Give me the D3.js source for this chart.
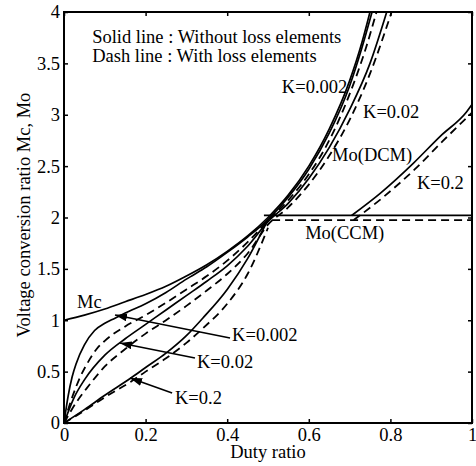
<!DOCTYPE html>
<html>
<head>
<meta charset="utf-8">
<script src="https://cdn.jsdelivr.net/npm/d3@7"></script>
<style>
  body { margin: 0; background: #fff; }
  svg text { font-family: "Liberation Serif", "Times New Roman", serif; fill: #000; }
</style>
</head>
<body>
<div id="chart"></div>
<script>
// ---- data (duty ratio D, conversion ratio M) ----
const xTicks = [0, 0.2, 0.4, 0.6, 0.8, 1];
const yTicks = [0, 0.5, 1, 1.5, 2, 2.5, 3, 3.5, 4];

const mcD = [0, 0.05, 0.1, 0.15, 0.2, 0.25, 0.3, 0.35, 0.4, 0.45, 0.5, 0.55, 0.6, 0.65, 0.7, 0.73, 0.75];
const mcM = [1, 1.05, 1.11, 1.18, 1.25, 1.33, 1.43, 1.54, 1.67, 1.82, 2.0, 2.22, 2.5, 2.86, 3.33, 3.7, 4.0];

const k002SolidD = [0, 0.01, 0.02, 0.03, 0.05, 0.075, 0.1, 0.125, 0.15, 0.2, 0.25, 0.3, 0.35, 0.4, 0.45, 0.5, 0.55, 0.6, 0.65, 0.7, 0.73, 0.755];
const k002SolidM = [0, 0.26, 0.45, 0.58, 0.76, 0.9, 0.97, 1.02, 1.07, 1.16, 1.27, 1.40, 1.52, 1.66, 1.81, 1.98, 2.2, 2.47, 2.82, 3.28, 3.65, 4.0];

const k002DashD = [0, 0.02, 0.04, 0.06, 0.08, 0.1, 0.15, 0.2, 0.25, 0.3, 0.35, 0.4, 0.45, 0.5, 0.55, 0.6, 0.65, 0.7, 0.74, 0.766];
const k002DashM = [0, 0.25, 0.45, 0.6, 0.72, 0.8, 0.94, 1.05, 1.17, 1.3, 1.43, 1.58, 1.76, 1.97, 2.17, 2.42, 2.75, 3.2, 3.65, 4.0];

const k02SolidD = [0, 0.025, 0.05, 0.1, 0.15, 0.2, 0.25, 0.3, 0.35, 0.4, 0.45, 0.5, 0.55, 0.6, 0.65, 0.7, 0.75, 0.791];
const k02SolidM = [0, 0.25, 0.42, 0.66, 0.82, 0.96, 1.1, 1.24, 1.38, 1.53, 1.72, 1.96, 2.14, 2.38, 2.68, 3.05, 3.5, 4.0];

const k02DashD = [0, 0.03, 0.06, 0.1, 0.15, 0.2, 0.25, 0.3, 0.35, 0.4, 0.45, 0.5, 0.55, 0.6, 0.65, 0.7, 0.75, 0.803];
const k02DashM = [0, 0.2, 0.36, 0.55, 0.72, 0.87, 1.0, 1.14, 1.29, 1.45, 1.65, 1.93, 2.1, 2.32, 2.6, 2.95, 3.4, 4.0];

const k2SolidD = [0, 0.05, 0.1, 0.163, 0.2, 0.25, 0.3, 0.34, 0.4, 0.45, 0.5];
const k2SolidM = [0, 0.13, 0.27, 0.435, 0.54, 0.68, 0.85, 1.02, 1.3, 1.6, 1.98];

const k2DashD = [0, 0.05, 0.1, 0.163, 0.2, 0.25, 0.3, 0.34, 0.4, 0.45, 0.5];
const k2DashM = [0, 0.12, 0.25, 0.4, 0.5, 0.63, 0.78, 0.92, 1.16, 1.45, 1.9];

const ccmSolidD = [0.49, 1];
const ccmSolidM = [2.02, 2.02];
const ccmDashD = [0.51, 1];
const ccmDashM = [1.975, 1.975];

const dcmSolidD = [0.705, 0.775, 0.856, 0.922, 0.987, 1];
const dcmSolidM = [2.02, 2.235, 2.527, 2.79, 3.03, 3.1];
const dcmDashD = [0.71, 0.78, 0.86, 0.93, 1];
const dcmDashM = [1.975, 2.19, 2.47, 2.75, 3.02];

const zip = (xs, ys) => xs.map((d, i) => ({d: d, m: ys[i]}));

const series = [
    {pts: zip(mcD, mcM), dash: false},
    {pts: zip(k002SolidD, k002SolidM), dash: false},
    {pts: zip(k002DashD, k002DashM), dash: true},
    {pts: zip(k02SolidD, k02SolidM), dash: false},
    {pts: zip(k02DashD, k02DashM), dash: true},
    {pts: zip(k2SolidD, k2SolidM), dash: false},
    {pts: zip(k2DashD, k2DashM), dash: true},
    {pts: zip(ccmSolidD, ccmSolidM), dash: false},
    {pts: zip(ccmDashD, ccmDashM), dash: true},
    {pts: zip(dcmSolidD, dcmSolidM), dash: false},
    {pts: zip(dcmDashD, dcmDashM), dash: true}
];

// ---- layout ----
const W = 476, H = 466;
const margin = {top: 12, right: 4, bottom: 43, left: 64};
const width = W - margin.left - margin.right;
const height = H - margin.top - margin.bottom;
const fs = "18.5px";
const serif = "'Liberation Serif', 'Times New Roman', serif";

const svg = d3.select("#chart").append("svg")
    .attr("width", W)
    .attr("height", H);

const g = svg.append("g")
    .attr("transform", "translate(" + margin.left + "," + margin.top + ")");

const x = d3.scaleLinear().domain([0, 1]).range([0, width]);
const y = d3.scaleLinear().domain([0, 4]).range([height, 0]);

// axes, ticks pointing inward
g.append("g")
    .attr("transform", "translate(0," + height + ")")
    .call(d3.axisBottom(x).tickValues(xTicks).tickSize(-4).tickPadding(5).tickFormat(d3.format("")))
    .attr("font-family", serif)
    .call(a => a.select(".domain").remove())
    .call(a => a.selectAll("text").style("font-size", fs).style("font-family", serif));

g.append("g")
    .call(d3.axisLeft(y).tickValues(yTicks).tickSize(-4).tickPadding(4).tickFormat(d3.format("")))
    .attr("font-family", serif)
    .call(a => a.select(".domain").remove())
    .call(a => a.selectAll("text").style("font-size", fs).style("font-family", serif));

g.append("g")
    .call(d3.axisTop(x).tickValues(xTicks).tickSize(-4).tickFormat(""))
    .call(a => a.select(".domain").remove());

g.append("g")
    .attr("transform", "translate(" + width + ",0)")
    .call(d3.axisRight(y).tickValues(yTicks).tickSize(-4).tickFormat(""))
    .call(a => a.select(".domain").remove());

g.selectAll(".tick line").attr("stroke", "#000").attr("stroke-width", 1.5);

// curves
const line = d3.line()
    .x(p => x(p.d))
    .y(p => y(p.m))
    .curve(d3.curveMonotoneX);

g.selectAll(".curve")
    .data(series)
    .enter().append("path")
    .attr("class", "curve")
    .attr("d", s => line(s.pts))
    .attr("fill", "none")
    .attr("stroke", "#000")
    .attr("stroke-width", s => s.dash ? 1.8 : 1.7)
    .attr("stroke-dasharray", s => s.dash ? "8,5" : null);

// frame
g.append("rect")
    .attr("width", width)
    .attr("height", height)
    .attr("fill", "none")
    .attr("stroke", "#000")
    .attr("stroke-width", 2);

// arrows
svg.append("defs").append("marker")
    .attr("id", "head")
    .attr("viewBox", "0 0 12 8")
    .attr("refX", 12)
    .attr("refY", 4)
    .attr("markerWidth", 12)
    .attr("markerHeight", 8)
    .attr("markerUnits", "userSpaceOnUse")
    .attr("orient", "auto")
    .append("path")
    .attr("d", "M0,0 L12,4 L0,8 Z")
    .attr("fill", "#000");

const arrows = [
    {from: [0.407, 0.827], to: [0.125, 1.051]},
    {from: [0.321, 0.633], to: [0.137, 0.779]},
    {from: [0.265, 0.292], to: [0.162, 0.438]}
];

g.selectAll(".arrow")
    .data(arrows)
    .enter().append("line")
    .attr("class", "arrow")
    .attr("x1", a => x(a.from[0]))
    .attr("y1", a => y(a.from[1]))
    .attr("x2", a => x(a.to[0]))
    .attr("y2", a => y(a.to[1]))
    .attr("stroke", "#000")
    .attr("stroke-width", 1.6)
    .attr("marker-end", "url(#head)");

// annotations (data coordinates of the text baseline start)
const notes = [
    {t: "Solid line : Without loss elements", d: 0.069, m: 3.70},
    {t: "Dash line : With loss elements", d: 0.069, m: 3.51},
    {t: "K=0.002", d: 0.534, m: 3.21},
    {t: "K=0.02", d: 0.733, m: 2.97},
    {t: "Mo(DCM)", d: 0.657, m: 2.55},
    {t: "K=0.2", d: 0.865, m: 2.28},
    {t: "Mo(CCM)", d: 0.591, m: 1.79},
    {t: "Mc", d: 0.032, m: 1.12},
    {t: "K=0.002", d: 0.412, m: 0.80},
    {t: "K=0.02", d: 0.326, m: 0.535},
    {t: "K=0.2", d: 0.272, m: 0.185}
];

g.selectAll(".note")
    .data(notes)
    .enter().append("text")
    .attr("class", "note")
    .attr("x", n => x(n.d))
    .attr("y", n => y(n.m))
    .style("font-size", fs)
    .text(n => n.t);

// axis titles
svg.append("text")
    .attr("x", margin.left + width / 2)
    .attr("y", 458)
    .attr("text-anchor", "middle")
    .style("font-size", fs)
    .text("Duty ratio");

svg.append("text")
    .attr("transform", "translate(30," + (margin.top + 203) + ") rotate(-90)")
    .attr("text-anchor", "middle")
    .style("font-size", fs)
    .text("Voltage conversion ratio Mc, Mo");
</script>
</body>
</html>
